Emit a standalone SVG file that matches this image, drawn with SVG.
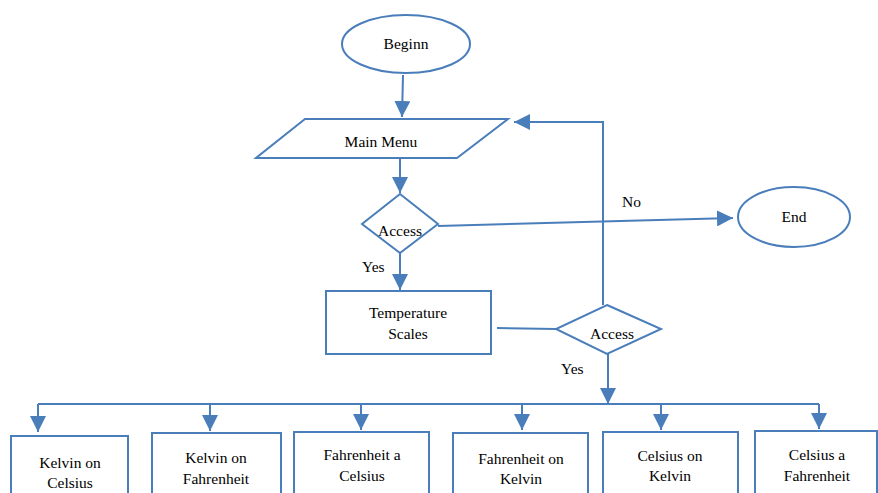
<svg xmlns="http://www.w3.org/2000/svg" width="878" height="493" viewBox="0 0 878 493">
  <style>
    .shape { fill: #ffffff; stroke: #4a7ebb; stroke-width: 2; }
    .conn { fill: none; stroke: #4a7ebb; stroke-width: 2; }
    text { font-family: 'Liberation Serif', 'DejaVu Serif', 'Times New Roman', Times, serif; font-size: 15.5px; fill: #000000; text-anchor: middle; }
    .lbl { text-anchor: start; }
  </style>
  <defs>
    <marker id="arrowhead" viewBox="0 0 16 16" refX="16" refY="8" markerWidth="16" markerHeight="16" markerUnits="userSpaceOnUse" orient="auto">
      <path d="M0,0 L16,8 L0,16 Z" fill="#4a7ebb"/>
    </marker>
  </defs>

  <!-- connectors -->
  <g id="connectors">
    <path class="conn" d="M403,75 L402,117" marker-end="url(#arrowhead)"/>
    <path class="conn" d="M400,158 L400,193" marker-end="url(#arrowhead)"/>
    <path class="conn" d="M438,226 L733,218" marker-end="url(#arrowhead)"/>
    <path class="conn" d="M400,253 L400,290" marker-end="url(#arrowhead)"/>
    <path class="conn" d="M497,328 L556,329"/>
    <path class="conn" d="M603,305 L603,122 L514,122" marker-end="url(#arrowhead)"/>
    <path class="conn" d="M608,354 L608,404" marker-end="url(#arrowhead)"/>
    <path class="conn" d="M38,404 L819,404"/>
    <path class="conn" d="M38,404 L38,432" marker-end="url(#arrowhead)"/>
    <path class="conn" d="M210,404 L210,431" marker-end="url(#arrowhead)"/>
    <path class="conn" d="M361,404 L361,430" marker-end="url(#arrowhead)"/>
    <path class="conn" d="M522,404 L522,430" marker-end="url(#arrowhead)"/>
    <path class="conn" d="M661,404 L661,430" marker-end="url(#arrowhead)"/>
    <path class="conn" d="M819,404 L819,429" marker-end="url(#arrowhead)"/>
    <text class="lbl" x="622" y="207">No</text>
    <text class="lbl" x="362" y="272">Yes</text>
    <text class="lbl" x="561" y="374">Yes</text>
  </g>

  <g id="start">
    <ellipse class="shape" cx="406" cy="44" rx="64" ry="29"/>
    <text x="406" y="49">Beginn</text>
  </g>

  <g id="main-menu">
    <polygon class="shape" points="305,119 508,119 457,158 256,158"/>
    <text x="381" y="147">Main Menu</text>
  </g>

  <g id="access-1">
    <polygon class="shape" points="400,194 438,224 400,253 362,224"/>
    <text x="400" y="236">Access</text>
  </g>

  <g id="end">
    <ellipse class="shape" cx="794" cy="217" rx="56" ry="30"/>
    <text x="794" y="222">End</text>
  </g>

  <g id="temperature-scales">
    <rect class="shape" x="326" y="291" width="165" height="63"/>
    <text x="408" y="318">Temperature</text>
    <text x="408" y="339">Scales</text>
  </g>

  <g id="access-2">
    <polygon class="shape" points="607,305 661,329 607,354 556,329"/>
    <text x="612" y="339">Access</text>
  </g>

  <g id="kelvin-celsius">
    <rect class="shape" x="11" y="436" width="117" height="70"/>
    <text x="70" y="468">Kelvin on</text>
    <text x="70" y="488">Celsius</text>
  </g>

  <g id="kelvin-fahrenheit">
    <rect class="shape" x="152" y="433" width="129" height="70"/>
    <text x="216" y="463">Kelvin on</text>
    <text x="216" y="484">Fahrenheit</text>
  </g>

  <g id="fahrenheit-celsius">
    <rect class="shape" x="294" y="432" width="135" height="70"/>
    <text x="362" y="460">Fahrenheit a</text>
    <text x="362" y="481">Celsius</text>
  </g>

  <g id="fahrenheit-kelvin">
    <rect class="shape" x="453" y="433" width="135" height="70"/>
    <text x="521" y="464">Fahrenheit on</text>
    <text x="521" y="484">Kelvin</text>
  </g>

  <g id="celsius-kelvin">
    <rect class="shape" x="603" y="432" width="135" height="70"/>
    <text x="670" y="461">Celsius on</text>
    <text x="670" y="481">Kelvin</text>
  </g>

  <g id="celsius-fahrenheit">
    <rect class="shape" x="755" y="431" width="122" height="70"/>
    <text x="817" y="460">Celsius a</text>
    <text x="817" y="481">Fahrenheit</text>
  </g>
</svg>
